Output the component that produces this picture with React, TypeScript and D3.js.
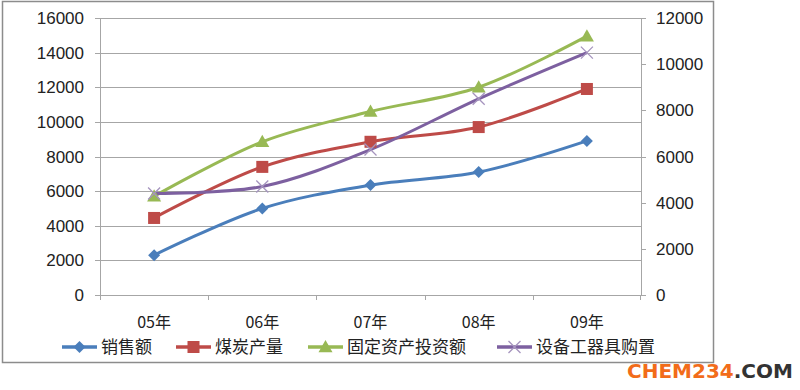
import React from "react";
import * as d3 from "d3";

// chart data
const years = ["05年", "06年", "07年", "08年", "09年"];
const sales = [2300, 5000, 6350, 7100, 8900];
const coal = [4450, 7400, 8850, 9700, 11900];
const invest = [5700, 8850, 10600, 12000, 14950];
const equip = [4400, 4700, 6300, 8500, 10500]; // right axis
const leftTicks = [0, 2000, 4000, 6000, 8000, 10000, 12000, 14000, 16000];
const rightTicks = [0, 2000, 4000, 6000, 8000, 10000, 12000];
const seriesNames = ["销售额", "煤炭产量", "固定资产投资额", "设备工器具购置"];

const W = 800;
const H = 390;
const plot = { left: 100, right: 641, top: 18, bottom: 295 };
const numFont = "'Liberation Sans', Arial, sans-serif";
const cjkFont = "'Noto Sans CJK SC', sans-serif";
const gridColor = "#a6a6a6";

function Marker({ kind, x, y, color }: { kind: string; x: number; y: number; color: string }) {
  if (kind === "diamond") {
    const s = 6;
    return <path d={`M${x},${y - s}L${x + s},${y}L${x},${y + s}L${x - s},${y}Z`} fill={color} />;
  }
  if (kind === "square") {
    return <rect x={x - 6} y={y - 6} width={12} height={12} fill={color} />;
  }
  if (kind === "triangle") {
    const s = 7;
    return <path d={`M${x},${y - s}L${x + s},${y + s * 0.75}L${x - s},${y + s * 0.75}Z`} fill={color} />;
  }
  const s = 6;
  return (
    <path
      d={`M${x - s},${y - s}L${x + s},${y + s}M${x + s},${y - s}L${x - s},${y + s}`}
      stroke="#a594be"
      strokeWidth={1.3}
    />
  );
}

export default function App() {
  const x = d3.scaleBand().domain(years).range([plot.left, plot.right]);
  const yL = d3.scaleLinear().domain([0, 16000]).range([plot.bottom, plot.top]);
  const yR = d3.scaleLinear().domain([0, 12000]).range([plot.bottom, plot.top]);
  const cx = (d: string) => (x(d) as number) + x.bandwidth() / 2;

  const series = [
    { name: seriesNames[0], values: sales, color: "#4a7ebb", marker: "diamond", y: yL },
    { name: seriesNames[1], values: coal, color: "#be4b48", marker: "square", y: yL },
    { name: seriesNames[2], values: invest, color: "#98b954", marker: "triangle", y: yL },
    { name: seriesNames[3], values: equip, color: "#7d60a0", marker: "x", y: yR },
  ];

  const legendX = [62, 176, 308, 497];

  return (
    <svg width={W} height={H} style={{ position: "absolute", left: 0, top: 0, background: "#fff" }}>
      <rect x={2.5} y={1.5} width={711} height={361} fill="#fff" stroke="#8c8c8c" strokeWidth={1.5} />

      {/* gridlines */}
      {leftTicks.map((t) => (
        <line key={t} x1={plot.left} x2={plot.right} y1={Math.round(yL(t)) + 0.5} y2={Math.round(yL(t)) + 0.5} stroke={gridColor} />
      ))}

      {/* left axis */}
      <line x1={plot.left + 0.5} x2={plot.left + 0.5} y1={plot.top} y2={plot.bottom} stroke={gridColor} />
      {leftTicks.map((t) => (
        <g key={t}>
          <line x1={plot.left - 5} x2={plot.left} y1={Math.round(yL(t)) + 0.5} y2={Math.round(yL(t)) + 0.5} stroke={gridColor} />
          <text x={84} y={yL(t)} dy="0.36em" textAnchor="end" fontFamily={numFont} fontSize={17} fill="#222">
            {t}
          </text>
        </g>
      ))}

      {/* right axis */}
      <line x1={plot.right + 0.5} x2={plot.right + 0.5} y1={plot.top} y2={plot.bottom} stroke={gridColor} />
      {rightTicks.map((t) => (
        <g key={t}>
          <line x1={plot.right} x2={plot.right + 5} y1={Math.round(yR(t)) + 0.5} y2={Math.round(yR(t)) + 0.5} stroke={gridColor} />
          <text x={656} y={yR(t)} dy="0.36em" textAnchor="start" fontFamily={numFont} fontSize={17} fill="#222">
            {t}
          </text>
        </g>
      ))}

      {/* bottom axis ticks and labels */}
      {years.map((d) => (
        <line key={d} x1={Math.round(x(d) as number) + 0.5} x2={Math.round(x(d) as number) + 0.5} y1={plot.bottom} y2={plot.bottom + 5} stroke={gridColor} />
      ))}
      <line x1={plot.right - 0.5} x2={plot.right - 0.5} y1={plot.bottom} y2={plot.bottom + 5} stroke={gridColor} />
      {years.map((d) => (
        <text key={d} x={cx(d)} y={328} textAnchor="middle" fontFamily={cjkFont} fontSize={16} fill="#222">
          {d}
        </text>
      ))}

      {/* lines */}
      {series.map((s) => {
        const line = d3
          .line<number>()
          .x((_, i) => cx(years[i]))
          .y((v) => s.y(v))
          .curve(d3.curveCatmullRom.alpha(0.5));
        return <path key={s.name} d={line(s.values) as string} fill="none" stroke={s.color} strokeWidth={3} />;
      })}
      {series.map((s) =>
        s.values.map((v, i) => (
          <Marker key={s.name + i} kind={s.marker} x={cx(years[i])} y={s.y(v)} color={s.color} />
        ))
      )}

      {/* legend */}
      {series.map((s, i) => (
        <g key={s.name} transform={`translate(${legendX[i]},347)`}>
          <line x1={0} x2={35} y1={0} y2={0} stroke={s.color} strokeWidth={3.5} />
          <Marker kind={s.marker} x={17.5} y={0} color={s.color} />
          <text x={39} y={0} dy="0.36em" fontFamily={cjkFont} fontSize={17} fill="#222">
            {s.name}
          </text>
        </g>
      ))}

      {/* watermark */}
      <text x={627} y={378} fontFamily="'DejaVu Sans', sans-serif" fontWeight="bold" fontSize={20}>
        <tspan fill="#f26c1a">CHEM234</tspan>
        <tspan fill="#333">.COM</tspan>
      </text>
    </svg>
  );
}
